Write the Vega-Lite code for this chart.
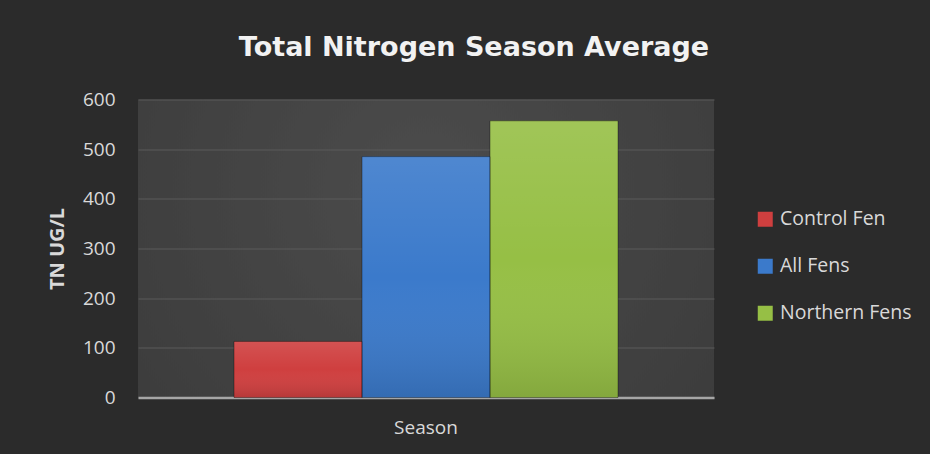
{
  "$schema": "https://vega.github.io/schema/vega-lite/v6.json",
  "width": 576,
  "height": 298,
  "autosize": "none",
  "padding": {"left": 138, "top": 99.5, "right": 216, "bottom": 56.5},
  "background": "#2b2b2b",
  "title": {
    "text": "Total Nitrogen Season Average",
    "font": "DejaVu Sans",
    "fontSize": 27,
    "fontWeight": "bold",
    "color": "#f2f2f2",
    "anchor": "middle",
    "frame": "group",
    "dx": 48,
    "offset": 29
  },
  "data": {
    "values": [
      {"period": "Season", "series": "Control Fen", "tn": 113},
      {"period": "Season", "series": "All Fens", "tn": 485},
      {"period": "Season", "series": "Northern Fens", "tn": 557}
    ]
  },
  "encoding": {
    "x": {
      "field": "period",
      "type": "nominal",
      "scale": {"paddingOuter": 0.25, "paddingInner": 0},
      "axis": {
        "title": null,
        "labelAngle": 0,
        "labelFont": "Open Sans",
        "labelFontSize": 19,
        "labelColor": "#d9d9d9",
        "labelPadding": 21,
        "ticks": false,
        "tickSize": 0,
        "domainColor": "#a6a6a6",
        "domainWidth": 2.5,
        "grid": false
      }
    },
    "xOffset": {
      "field": "series",
      "type": "nominal",
      "sort": ["Control Fen", "All Fens", "Northern Fens"],
      "scale": {"paddingInner": 0, "paddingOuter": 0}
    },
    "y": {
      "field": "tn",
      "type": "quantitative",
      "scale": {"domain": [0, 600], "nice": false},
      "axis": {
        "values": [0, 100, 200, 300, 400, 500, 600],
        "title": "TN UG/L",
        "titleFont": "Open Sans",
        "titleFontSize": 20,
        "titleFontWeight": "bold",
        "titleColor": "#d9d9d9",
        "titleAngle": -90,
        "titleX": -81,
        "titleY": 149,
        "titleAlign": "center",
        "titleBaseline": "middle",
        "labelFont": "Open Sans",
        "labelFontSize": 19,
        "labelColor": "#d9d9d9",
        "labelPadding": 23,
        "ticks": false,
        "tickSize": 0,
        "domain": false,
        "gridColor": "#5a5a5a",
        "gridWidth": 1.2
      }
    }
  },
  "layer": [
    {
      "mark": {"type": "bar"},
      "encoding": {
        "color": {
          "field": "series",
          "type": "nominal",
          "sort": ["Control Fen", "All Fens", "Northern Fens"],
          "scale": {
            "domain": ["Control Fen", "All Fens", "Northern Fens"],
            "range": ["#cf3f3f", "#3b7acb", "#96bf45"]
          },
          "legend": {
            "title": null,
            "orient": "none",
            "legendX": 617.5,
            "legendY": 110,
            "symbolType": "square",
            "symbolSize": 225,
            "symbolStrokeWidth": 0,
            "labelFont": "Open Sans",
            "labelFontSize": 19.5,
            "labelColor": "#d9d9d9",
            "labelOffset": 5,
            "rowPadding": 26
          }
        }
      }
    },
    {
      "mark": {
        "type": "bar",
        "fill": {
          "gradient": "linear",
          "x1": 0, "y1": 0, "x2": 0, "y2": 1,
          "stops": [
            {"offset": 0, "color": "rgba(255,255,255,0.10)"},
            {"offset": 0.5, "color": "rgba(255,255,255,0.0)"},
            {"offset": 1, "color": "rgba(0,0,0,0.12)"}
          ]
        },
        "stroke": "rgba(0,0,0,0.35)",
        "strokeWidth": 1
      }
    }
  ],
  "config": {
    "view": {
      "stroke": null,
      "fill": {
        "gradient": "radial",
        "x1": 0.5, "y1": 0.4, "r1": 0,
        "x2": 0.5, "y2": 0.4, "r2": 0.85,
        "stops": [
          {"offset": 0, "color": "#4c4c4c"},
          {"offset": 1, "color": "#363636"}
        ]
      }
    }
  }
}
